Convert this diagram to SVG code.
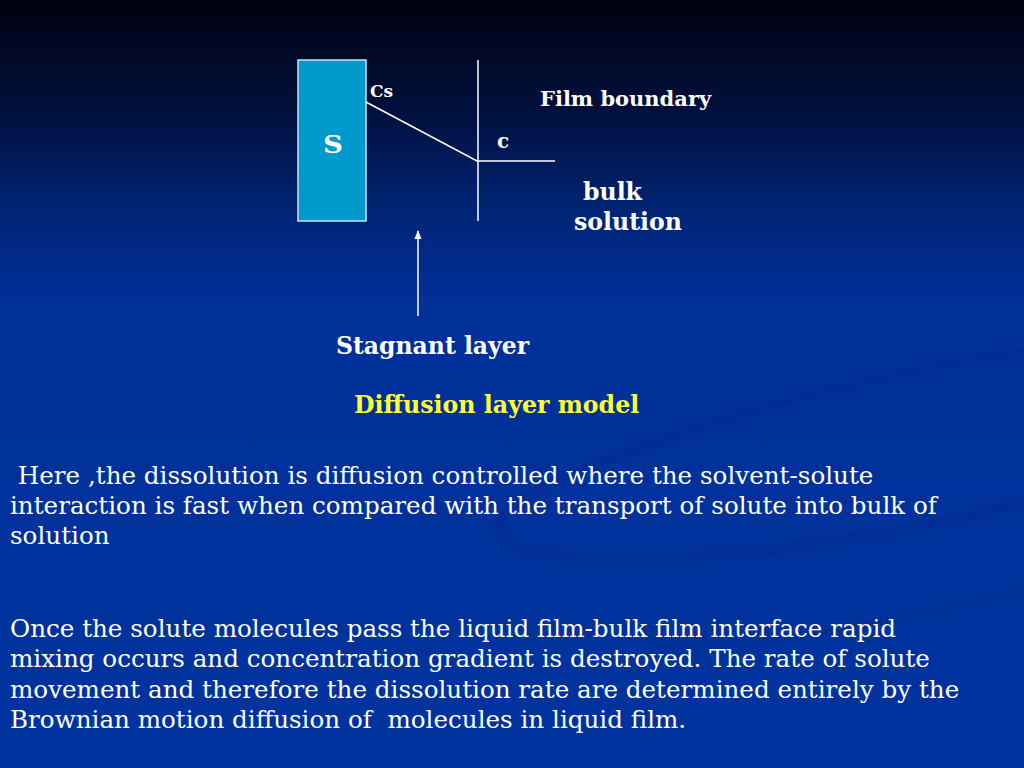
<svg xmlns="http://www.w3.org/2000/svg" width="1024" height="768" viewBox="0 0 1024 768">
<defs>
<linearGradient id="bg" x1="0" y1="0" x2="0" y2="1">
<stop offset="0" stop-color="#00000c"/>
<stop offset="0.03" stop-color="#00051a"/>
<stop offset="0.15" stop-color="#00103f"/>
<stop offset="0.28" stop-color="#002577"/>
<stop offset="0.4" stop-color="#00309a"/>
<stop offset="1" stop-color="#00339e"/>
</linearGradient>
<marker id="ah" viewBox="0 0 10 10" refX="9" refY="5" markerWidth="6" markerHeight="6" orient="auto">
<path d="M0,1 L10,5 L0,9 z" fill="#ffffff"/>
</marker>
<style>
.lbl{font-family:"DejaVu Serif","Liberation Serif",serif;font-weight:bold;fill:#ffffff;}
.body{font-family:"DejaVu Serif","Liberation Serif",serif;fill:#ffffff;font-size:24.6px;}
.ln{stroke:#ffffff;stroke-width:1.5;fill:none;}
.sw{fill:none;stroke:#002a8c;stroke-opacity:0.35;}
</style>
</defs>
<rect x="0" y="0" width="1024" height="768" fill="url(#bg)"/>
<g id="decor">
<path class="sw" stroke-width="10" d="M1024,350 C850,380 700,420 560,480 C450,530 500,560 620,560 C760,560 980,520 1024,500"/>
<path class="sw" stroke-width="6" d="M1024,590 C900,620 720,660 650,640"/>
</g>
<g id="solid">
<rect x="298" y="60" width="68" height="161" fill="#0099cc" stroke="#c8e4f4" stroke-width="1.5"/>
<text x="333" y="153" text-anchor="middle" font-family="DejaVu Serif, Liberation Serif, serif" font-weight="bold" font-size="24" fill="#ffffff" transform="translate(333,153) scale(1.15,1) translate(-333,-153)">S</text>
</g>
<g id="boundary">
<line class="ln" x1="478" y1="60" x2="478" y2="221"/>
</g>
<g id="connectors">
<polyline class="ln" points="366,102 477,161 555,161"/>
<line class="ln" x1="418" y1="316" x2="418" y2="231" marker-end="url(#ah)"/>
</g>
<g id="labels">
<text class="lbl" x="370" y="97" font-size="17">Cs</text>
<text class="lbl" x="540" y="106" font-size="21">Film boundary</text>
<text class="lbl" x="497" y="148" font-size="20">c</text>
<text class="lbl" x="583" y="200" font-size="23.6">bulk</text>
<text class="lbl" x="574" y="230" font-size="23.6">solution</text>
<text class="lbl" x="336" y="354" font-size="23.5">Stagnant layer</text>
<text class="lbl" x="354" y="413" font-size="23.7" style="fill:#ffff33">Diffusion layer model</text>
</g>
<g id="text">
<text class="body" x="10" y="484" xml:space="preserve"> Here ,the dissolution is diffusion controlled where the solvent-solute</text>
<text class="body" x="10" y="514">interaction is fast when compared with the transport of solute into bulk of</text>
<text class="body" x="10" y="544">solution</text>
<text class="body" x="10" y="637">Once the solute molecules pass the liquid film-bulk film interface rapid</text>
<text class="body" x="10" y="667">mixing occurs and concentration gradient is destroyed. The rate of solute</text>
<text class="body" x="10" y="698">movement and therefore the dissolution rate are determined entirely by the</text>
<text class="body" x="10" y="728" xml:space="preserve">Brownian motion diffusion of  molecules in liquid film.</text>
</g>
</svg>
